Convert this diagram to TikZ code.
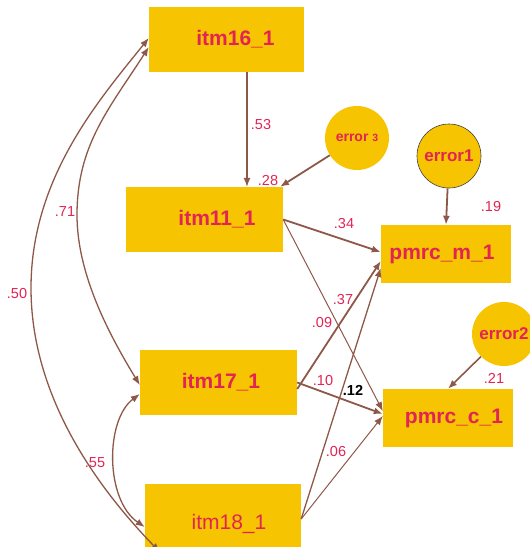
\documentclass[tikz,border=0pt]{standalone}
\usepackage{fontspec}
\setmainfont{Liberation Sans}
\usetikzlibrary{arrows.meta}

\definecolor{boxfill}{RGB}{246,196,0}
\definecolor{labelred}{RGB}{226,36,84}
\definecolor{pathbrown}{RGB}{142,88,72}

\tikzset{
  var/.style={fill=boxfill, inner sep=0pt, text=labelred, font=\fontsize{21}{25}\selectfont\bfseries},
  err/.style={circle, fill=boxfill, minimum size=64pt, inner sep=0pt, text=labelred, font=\fontsize{17}{20}\selectfont\bfseries},
  coef/.style={text=labelred, inner sep=0pt, font=\fontsize{14.5}{17}\selectfont},
  reg/.style={draw=pathbrown, ->},
  cov/.style={draw=pathbrown, <->, line width=1.3pt},
}

\begin{document}
\begin{tikzpicture}[x=1pt, y=-1pt, >={Latex[length=9pt,width=7pt]}]
\useasboundingbox (0,0) rectangle (530,547);

% observed variables
\node[var, minimum width=155pt, minimum height=65pt] (i16) at (226.5,39.5) {\hspace*{18pt}itm16\_1};
\node[var, minimum width=157pt, minimum height=65pt] (i11) at (204.5,219.5) {\hspace*{25pt}itm11\_1};
\node[var, minimum width=157pt, minimum height=65pt] (i17) at (218.5,382.5) {\hspace*{5pt}itm17\_1};
\node[var, minimum width=156pt, minimum height=80pt, font=\fontsize{21}{25}\selectfont] (i18) at (223,524) {\hspace*{12pt}itm18\_1};
\node[var, minimum width=130pt, minimum height=58pt] (pm) at (446,254) {pmrc\_m\_1\hspace*{8pt}};
\node[var, minimum width=130pt, minimum height=58pt] (pc) at (448,418) {\hspace*{12pt}pmrc\_c\_1};

% errors
\node[err, font=\fontsize{14}{17}\selectfont\bfseries] (e3) at (357,138) {error {\fontsize{10.5}{12}\selectfont 3}};
\node[err, draw=black!75, line width=0.6pt] (e1) at (449,156) {error1};
\node[err] (e2) at (504,334) {error2};

% regression paths
\draw[reg, line width=1.2pt] ([xshift=20.5pt]i16.south) -- ([xshift=42.5pt]i11.north);
\draw[reg, line width=1.8pt] (e3) -- ([xshift=75.5pt]i11.north);
\draw[reg, line width=1.8pt] (e1) -- (pm.north);
\draw[reg, line width=1.6pt] (e2) -- (pc.north);
\draw[reg, line width=1.8pt] (i11.east) -- ([yshift=2pt]pm.west);
\draw[reg, line width=1pt] (i11.east) -- ([yshift=7pt]pc.west);
\draw[reg, line width=1.8pt] ([yshift=-6.5pt]i17.east) -- ([yshift=-7pt]pm.west);
\draw[reg, line width=1.8pt] (i17.east) -- ([yshift=4pt]pc.west);
\draw[reg, line width=1.3pt] ([yshift=5pt]i18.east) -- ([yshift=-14pt]pm.west);
\draw[reg, line width=1pt] ([yshift=5pt]i18.east) -- ([yshift=2pt]pc.west);

% covariances
\draw[cov] ([yshift=1.5pt]i16.west) .. controls (99,100) and (31,178) .. (31,288)
  .. controls (31,395) and (95,485) .. ([xshift=15pt,yshift=-28pt]i18.west);
\draw[cov] ([yshift=-7.5pt]i16.west) .. controls (109,109) and (77,145) .. (77,215)
  .. controls (77,275) and (110,336) .. ([yshift=-2.5pt]i17.west);
\draw[cov] ([yshift=-11.5pt]i17.west) .. controls (105,420) and (105,500) .. ([yshift=-3pt]i18.west);

% coefficients
\node[coef] (c53) at (261,125) {.53};
\node[coef] (c28) at (268,181) {.28};
\node[coef] (c19) at (491,207) {.19};
\node[coef] (c34) at (344,224) {.34};
\node[coef] (c37) at (343,300) {.37};
\node[coef] (c09) at (322,323) {.09};
\node[coef] (c71) at (65,212) {.71};
\node[coef] (c50) at (17,294) {.50};
\node[coef] (c10) at (323,381) {.10};
\node[coef, text=black, font=\fontsize{14.5}{17}\selectfont\bfseries] (c12) at (353,390) {.12};
\node[coef] (c21) at (494,378) {.21};
\node[coef] (c55) at (95,463) {.55};
\node[coef] (c06) at (336,452) {.06};

\end{tikzpicture}
\end{document}
